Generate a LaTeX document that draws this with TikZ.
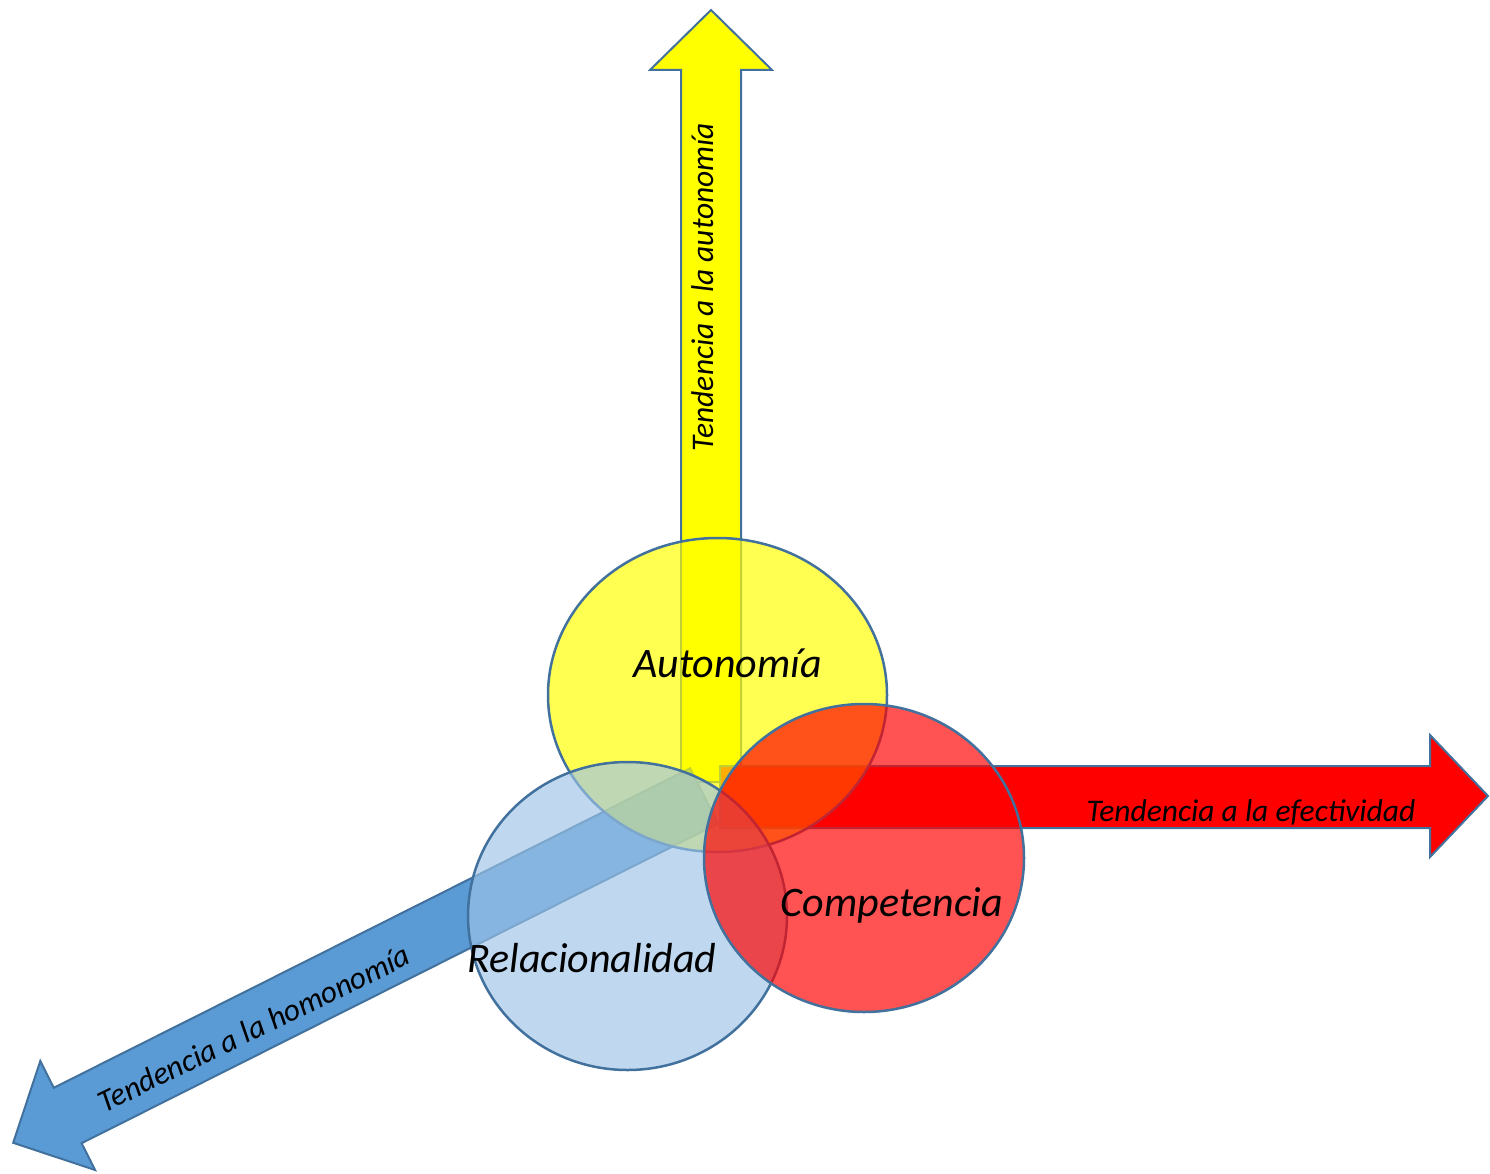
\documentclass[tikz,border=0pt]{standalone}
\usepackage{fontspec}
\setmainfont{Carlito}
\usetikzlibrary{shapes.geometric}

\definecolor{edgeblue}{RGB}{65,113,156}
\definecolor{arrowblue}{RGB}{91,155,213}
\definecolor{circleblue}{RGB}{157,195,230}
\definecolor{pureyellow}{RGB}{255,255,0}
\definecolor{purered}{RGB}{255,0,0}

\tikzset{
  blockarrow/.style={draw=edgeblue, line width=2pt, line join=miter},
  bubble/.style={ellipse, draw=edgeblue, line width=2.5pt, inner sep=0pt, fill opacity=0.68},
  bigtext/.style={font=\itshape\fontsize{42}{50}\selectfont, inner sep=0pt, anchor=base},
  axistext/.style={font=\itshape\fontsize{31.5}{38}\selectfont, inner sep=0pt, anchor=base},
}

\begin{document}
\begin{tikzpicture}[x=1pt, y=-1pt]
\useasboundingbox (0,0) rectangle (1490,1174);

% vertical arrow: autonomy
\draw[blockarrow, fill=pureyellow]
  (681,782) -- (681,70) -- (650,70) -- (711,10) -- (772,70) -- (741,70) -- (741,782) -- cycle;

% horizontal arrow: effectiveness
\draw[blockarrow, fill=purered]
  (720,766) -- (1430,766) -- (1430,735) -- (1488,796) -- (1430,857) -- (1430,828) -- (720,828) -- cycle;

% diagonal arrow: homonomy
\draw[blockarrow, fill=arrowblue]
  (690.1,768.3) -- (53.8,1087.8) -- (40.3,1061.0) -- (13.2,1142.8)
  -- (95.1,1170.0) -- (81.6,1143.2) -- (717.9,823.7) -- cycle;

% the three overlapping needs
\node[bubble, fill=pureyellow, minimum width=339pt, minimum height=314pt] (aut) at (717.5,695) {};
\node[bubble, fill=circleblue, fill opacity=0.65, minimum width=319pt, minimum height=308pt] (rel) at (627.5,916) {};
\node[bubble, fill=purered, minimum width=320pt, minimum height=308pt] (com) at (864,858) {};

% labels
\node[bigtext] (autlabel) at (727.5,677) {Autonomía};
\node[bigtext] (comlabel) at (892,916) {Competencia};
\node[bigtext] (rellabel) at (592,972) {Relacionalidad};

\node[axistext, rotate=90] (autaxis) at (713,287) {Tendencia a la autonomía};
\node[axistext] (efeaxis) at (1251,821) {Tendencia a la efectividad};
\node[axistext, rotate=26] (homaxis) at (258.5,1038) {Tendencia a la homonomía};
\end{tikzpicture}
\end{document}
